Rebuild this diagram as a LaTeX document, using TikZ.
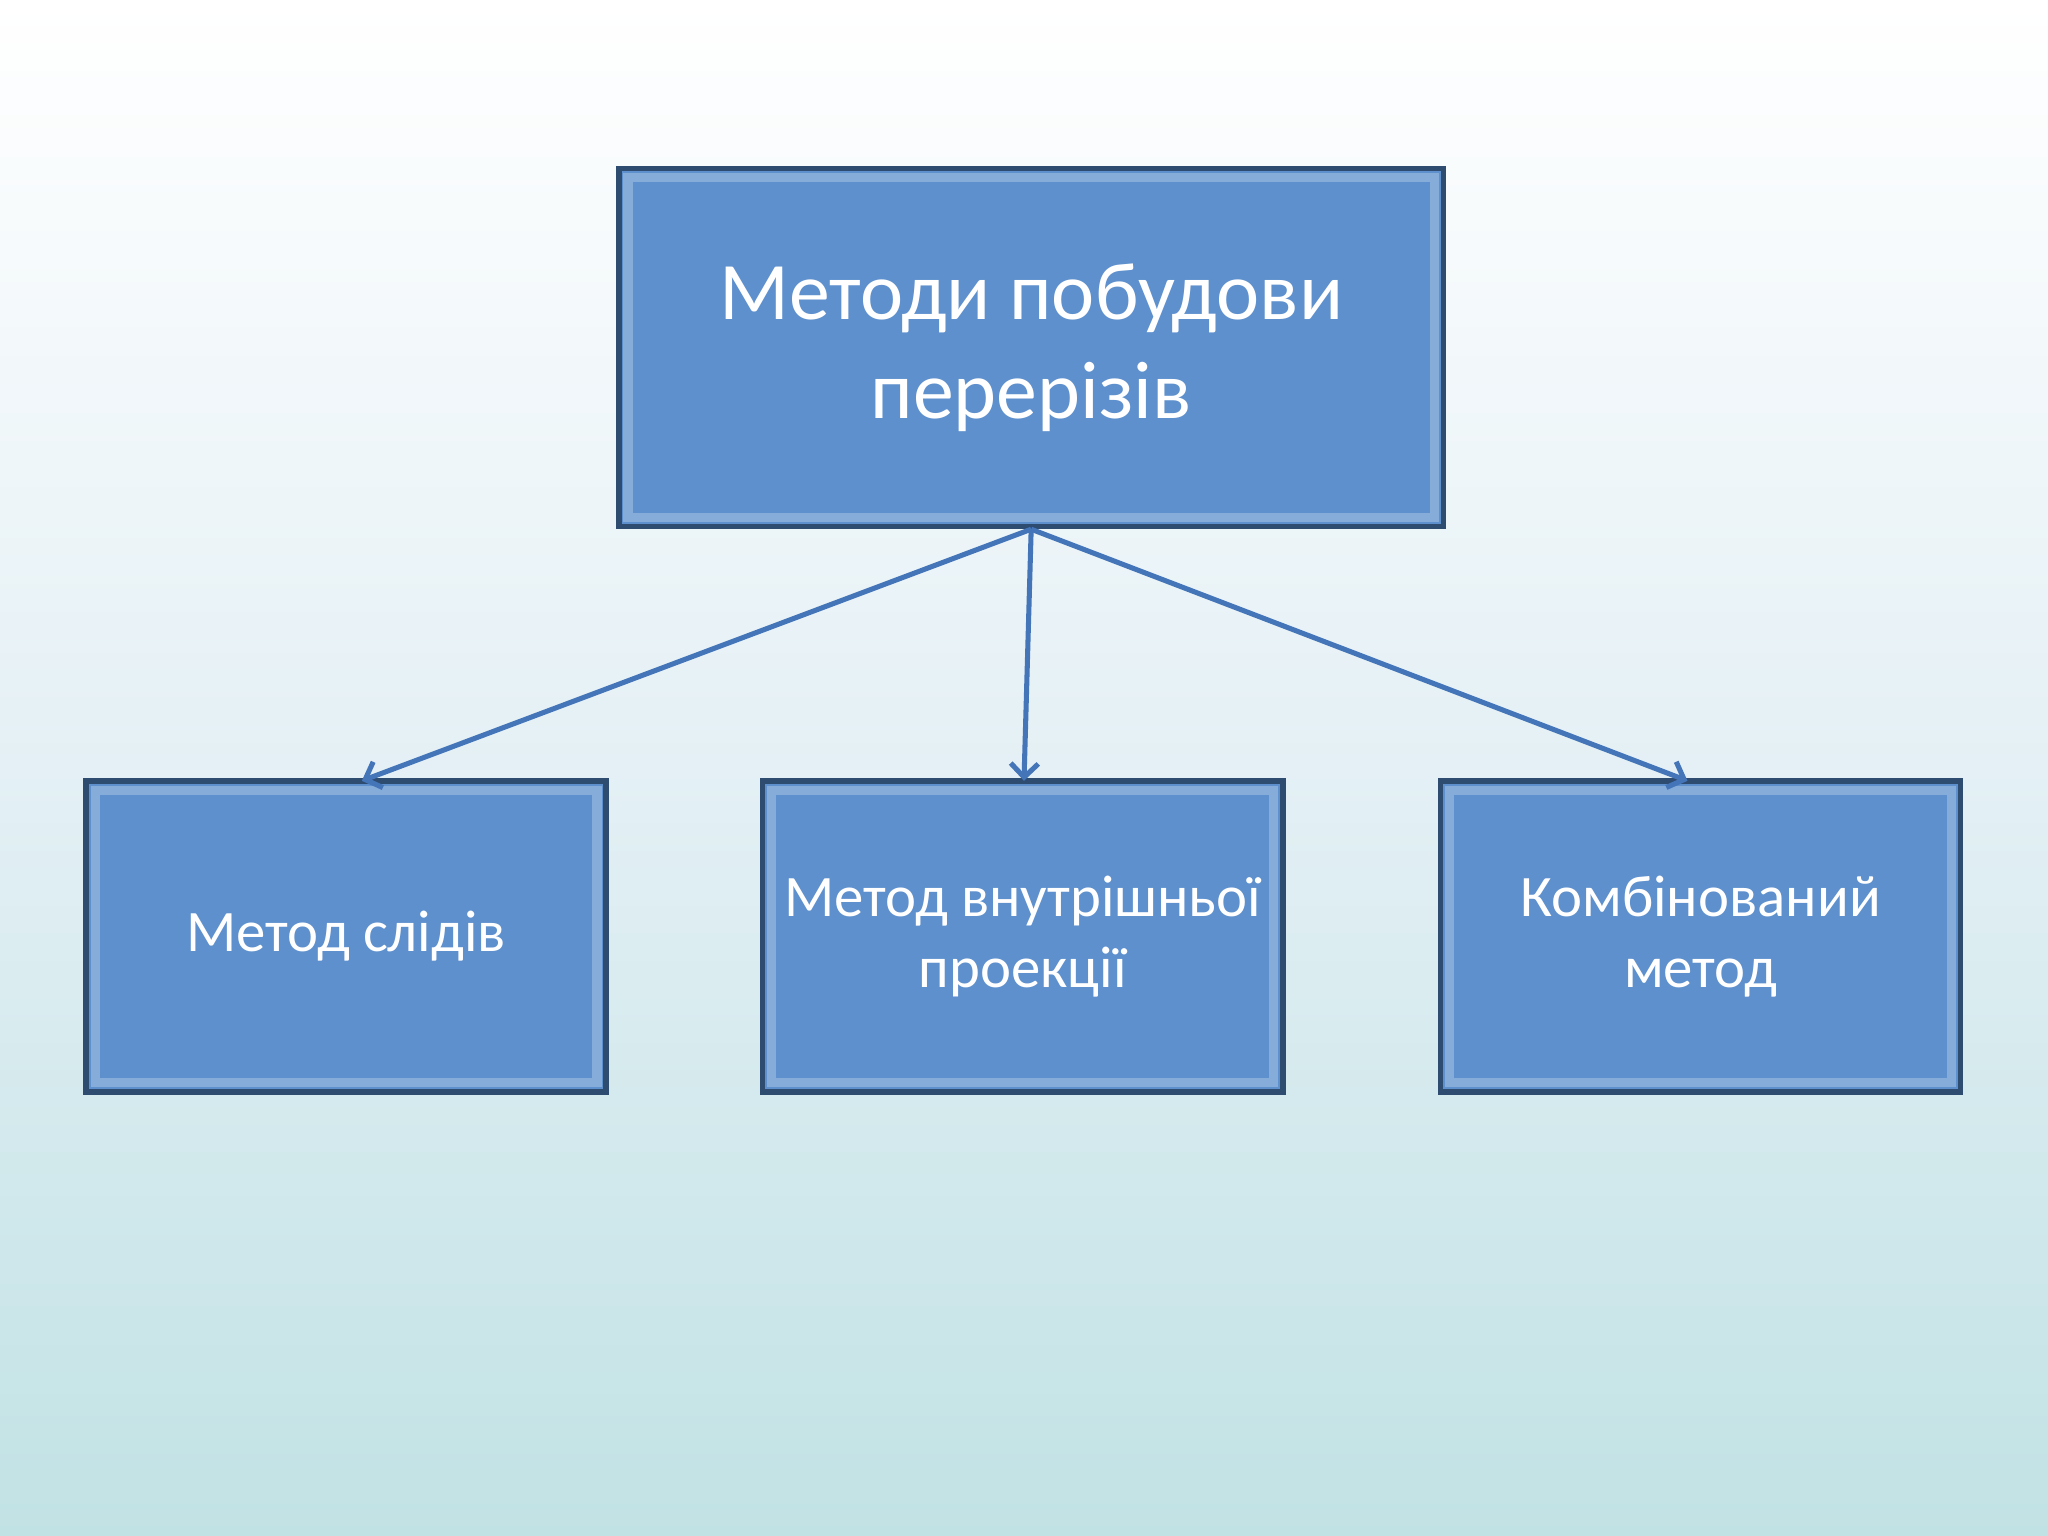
\documentclass[tikz,border=0pt]{standalone}
\usepackage{fontspec}
\setmainfont{Carlito}
\usetikzlibrary{arrows.meta}
\definecolor{boxfill}{HTML}{5E90CD}
\definecolor{boxedge}{HTML}{2E4B70}
\definecolor{linec}{HTML}{4475B8}
\definecolor{bgbot}{HTML}{C1E2E4}
\definecolor{bgmid}{HTML}{E4F0F5}
\begin{document}
\begin{tikzpicture}[x=0.01cm,y=-0.01cm,
  box/.style={rectangle,fill=boxfill,draw=boxedge,line width=1.2pt,text=white,align=center,inner sep=0pt,
    path picture={\draw[white!25!boxfill,line width=2pt] ([shift={(2pt,2pt)}]path picture bounding box.south west) rectangle ([shift={(-2pt,-2pt)}]path picture bounding box.north east);}},
  conn/.style={draw=linec,line width=1.1pt,-{Straight Barb[length=3pt,width=6pt]}}]
\shade[top color=white,bottom color=bgbot,middle color=bgmid] (0,0) rectangle (1568,1176);
\useasboundingbox (0,0) rectangle (1568,1176);
\node[box,minimum width=6.31cm,minimum height=2.74cm,font=\fontsize{17.8}{21.5}\selectfont] (top) at (789.5,266) {Методи побудови\\перерізів};
\node[box,minimum width=3.98cm,minimum height=2.38cm,font=\fontsize{12.8}{15.6}\selectfont] (b1) at (265,717) {Метод слідів};
\node[box,minimum width=3.98cm,minimum height=2.38cm,font=\fontsize{12.8}{15.6}\selectfont] (b2) at (783,717) {Метод внутрішньої\\проекції};
\node[box,minimum width=3.98cm,minimum height=2.38cm,font=\fontsize{12.8}{15.6}\selectfont] (b3) at (1302,717) {Комбінований\\метод};
\draw[conn] (top.south) -- ([shift={(0.12cm,-0.02cm)}]b1.north);
\draw[conn] (top.south) -- ([shift={(0.01cm,-0.02cm)}]b2.north);
\draw[conn] (top.south) -- ([shift={(-0.1cm,-0.02cm)}]b3.north);
\end{tikzpicture}
\end{document}
